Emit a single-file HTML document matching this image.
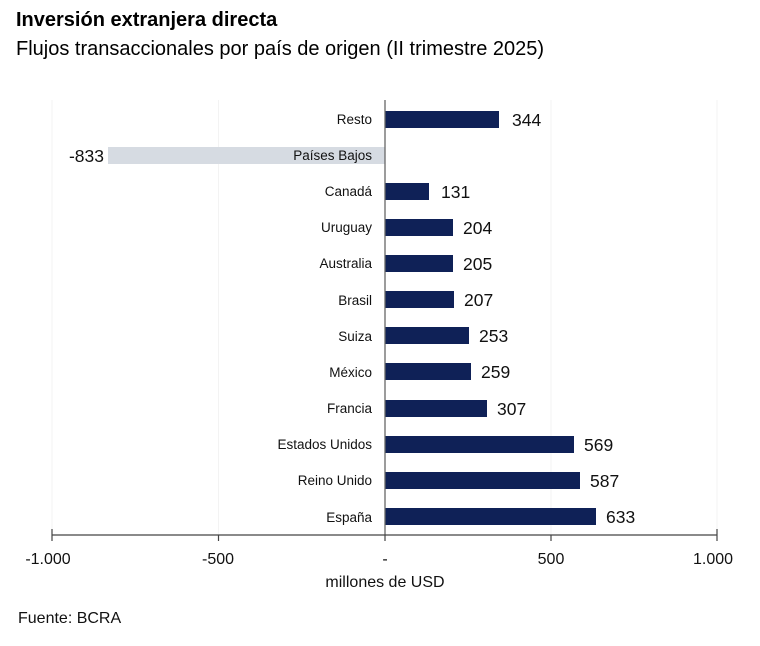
<!DOCTYPE html>
<html><head><meta charset="utf-8"><style>
body{margin:0;background:#fff;width:760px;height:641px;overflow:hidden;font-family:"Liberation Sans",Arial,sans-serif}
</style></head><body>
<svg width="760" height="641" xmlns="http://www.w3.org/2000/svg" font-family="Liberation Sans, Arial, sans-serif">
<text x="16" y="26" font-size="20" font-weight="bold" fill="#000">Inversión extranjera directa</text>
<text x="16" y="55" font-size="20" fill="#000">Flujos transaccionales por país de origen (II trimestre 2025)</text>
<g stroke="#f3f3f3" stroke-width="1">
<line x1="52" y1="100" x2="52" y2="535"/><line x1="218.5" y1="100" x2="218.5" y2="535"/>
<line x1="551" y1="100" x2="551" y2="535"/><line x1="717" y1="100" x2="717" y2="535"/>
</g>
<rect x="108" y="147" width="277" height="17" fill="#d6dbe2"/>
<g font-size="13.5" text-anchor="end" fill="#111">
<text x="372" y="124">Resto</text>
<text x="372" y="160">Países Bajos</text>
<text x="372" y="196">Canadá</text>
<text x="372" y="232">Uruguay</text>
<text x="372" y="268">Australia</text>
<text x="372" y="305">Brasil</text>
<text x="372" y="341">Suiza</text>
<text x="372" y="377">México</text>
<text x="372" y="413">Francia</text>
<text x="372" y="449">Estados Unidos</text>
<text x="372" y="485">Reino Unido</text>
<text x="372" y="522">España</text>
</g>
<g fill="#0f2157">
<rect x="385" y="111" width="114" height="17"/>
<rect x="385" y="183" width="44" height="17"/>
<rect x="385" y="219" width="68" height="17"/>
<rect x="385" y="255" width="68" height="17"/>
<rect x="385" y="291" width="69" height="17"/>
<rect x="385" y="327" width="84" height="17"/>
<rect x="385" y="363" width="86" height="17"/>
<rect x="385" y="400" width="102" height="17"/>
<rect x="385" y="436" width="189" height="17"/>
<rect x="385" y="472" width="195" height="17"/>
<rect x="385" y="508" width="211" height="17"/>
</g>
<g font-size="17.5" fill="#111">
<text x="512" y="126">344</text>
<text x="104" y="162" text-anchor="end">-833</text>
<text x="441" y="198">131</text>
<text x="463" y="234">204</text>
<text x="463" y="270">205</text>
<text x="464" y="306">207</text>
<text x="479" y="342">253</text>
<text x="481" y="378">259</text>
<text x="497" y="415">307</text>
<text x="584" y="451">569</text>
<text x="590" y="487">587</text>
<text x="606" y="523">633</text>
</g>
<line x1="385" y1="100" x2="385" y2="535" stroke="#666" stroke-width="1.3"/>
<g stroke="#444" stroke-width="1.2">
<line x1="52" y1="535" x2="717" y2="535"/>
<line x1="52" y1="529" x2="52" y2="541"/><line x1="218.5" y1="535" x2="218.5" y2="541"/>
<line x1="385" y1="535" x2="385" y2="541"/><line x1="551" y1="535" x2="551" y2="541"/>
<line x1="717" y1="529" x2="717" y2="541"/>
</g>
<g font-size="16" fill="#111" text-anchor="middle">
<text x="48" y="564">-1.000</text>
<text x="218" y="564">-500</text>
<text x="385" y="564">-</text>
<text x="551" y="564">500</text>
<text x="713" y="564">1.000</text>
<text x="385" y="587">millones de USD</text>
</g>
<text x="18" y="623" font-size="16" fill="#111">Fuente: BCRA</text>
</svg>
</body></html>
